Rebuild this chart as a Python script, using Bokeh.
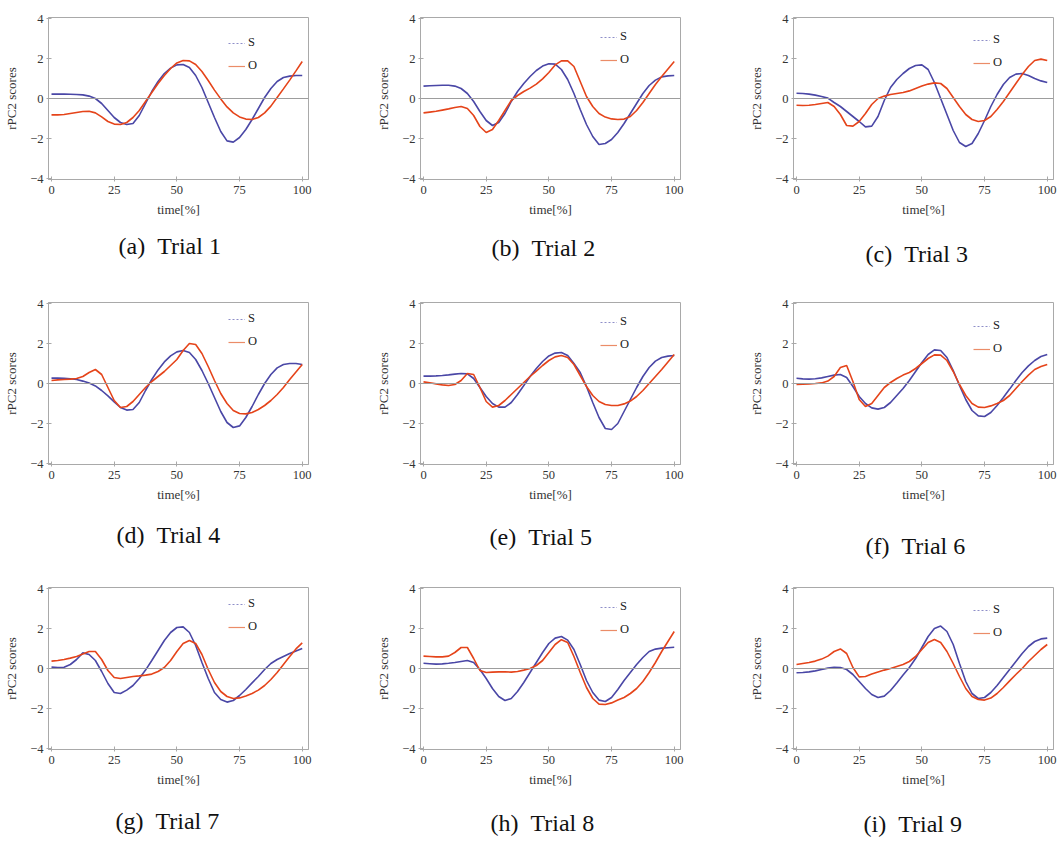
from bokeh.plotting import figure
from bokeh.layouts import column, row
from bokeh.models import (Range1d, FixedTicker, Span, Legend, LegendItem, Title,
                          LinearAxis)
from bokeh.embed import file_html
from bokeh.resources import INLINE

# ---------------- data ----------------
time_pct = [0, 2.5, 5, 7.5, 10, 12.5, 15, 17.5, 20, 22.5, 25, 27.5, 30, 32.5, 35, 37.5,
            40, 42.5, 45, 47.5, 50, 52.5, 55, 57.5, 60, 62.5, 65, 67.5, 70, 72.5, 75,
            77.5, 80, 82.5, 85, 87.5, 90, 92.5, 95, 97.5, 100]

s_trial1 = [0.22, 0.22, 0.22, 0.21, 0.2, 0.18, 0.12, 0.0, -0.25, -0.6, -0.95, -1.2, -1.3, -1.25,
            -0.85, -0.25, 0.35, 0.85, 1.25, 1.52, 1.68, 1.7, 1.55, 1.15, 0.55, -0.2, -0.95, -1.65,
            -2.12, -2.18, -1.95, -1.55, -1.05, -0.5, 0.05, 0.5, 0.85, 1.05, 1.12, 1.15, 1.15]
o_trial1 = [-0.82, -0.82, -0.8, -0.75, -0.7, -0.65, -0.64, -0.72, -0.92, -1.15, -1.28, -1.3, -1.2,
            -0.95, -0.6, -0.15, 0.3, 0.75, 1.15, 1.5, 1.78, 1.9, 1.88, 1.7, 1.35, 0.9, 0.42, -0.02,
            -0.42, -0.72, -0.92, -1.03, -1.05, -0.95, -0.72, -0.38, 0.05, 0.48, 0.92, 1.38, 1.85]

s_trial2 = [0.62, 0.64, 0.65, 0.66, 0.66, 0.62, 0.5, 0.25, -0.15, -0.65, -1.1, -1.35, -1.2, -0.75,
            -0.15, 0.35, 0.75, 1.1, 1.4, 1.62, 1.74, 1.72, 1.45, 0.95, 0.25, -0.55, -1.3, -1.9,
            -2.3, -2.25, -2.05, -1.7, -1.25, -0.75, -0.25, 0.25, 0.65, 0.92, 1.08, 1.13, 1.15]
o_trial2 = [-0.72, -0.68, -0.64, -0.58, -0.52, -0.45, -0.4, -0.5, -0.85, -1.4, -1.7, -1.55, -1.1,
            -0.6, -0.1, 0.15, 0.35, 0.52, 0.72, 0.98, 1.3, 1.68, 1.88, 1.88, 1.6, 0.85, 0.1, -0.4,
            -0.75, -0.93, -1.02, -1.05, -1.03, -0.9, -0.6, -0.2, 0.25, 0.7, 1.1, 1.48, 1.85]

s_trial3 = [0.26, 0.25, 0.22, 0.17, 0.1, 0.02, -0.2, -0.4, -0.65, -0.9, -1.15, -1.42, -1.38, -0.9,
            -0.1, 0.55, 0.95, 1.25, 1.5, 1.65, 1.68, 1.45, 0.8, 0.0, -0.8, -1.6, -2.2, -2.4, -2.25,
            -1.75, -1.1, -0.4, 0.2, 0.7, 1.05, 1.22, 1.25, 1.15, 1.0, 0.88, 0.8]
o_trial3 = [-0.34, -0.35, -0.34, -0.3, -0.25, -0.2, -0.4, -0.8, -1.35, -1.38, -1.15, -0.75, -0.3,
            0.0, 0.12, 0.2, 0.25, 0.3, 0.38, 0.5, 0.62, 0.72, 0.78, 0.75, 0.5, 0.05, -0.4, -0.8,
            -1.05, -1.15, -1.1, -0.9, -0.55, -0.15, 0.3, 0.75, 1.2, 1.6, 1.9, 1.97, 1.9]

s_trial4 = [0.27, 0.27, 0.26, 0.24, 0.2, 0.12, 0.02, -0.12, -0.35, -0.62, -0.92, -1.2, -1.33, -1.3,
            -0.95, -0.35, 0.2, 0.68, 1.08, 1.38, 1.58, 1.65, 1.55, 1.2, 0.65, 0.0, -0.7, -1.4, -1.95,
            -2.2, -2.12, -1.7, -1.15, -0.55, 0.0, 0.45, 0.78, 0.95, 1.0, 1.0, 0.95]
o_trial4 = [0.15, 0.18, 0.2, 0.22, 0.25, 0.35, 0.55, 0.7, 0.45, -0.2, -0.85, -1.2, -1.15, -0.9,
            -0.55, -0.2, 0.1, 0.35, 0.6, 0.9, 1.2, 1.65, 2.0, 1.95, 1.5, 0.85, 0.15, -0.5, -1.0,
            -1.35, -1.5, -1.52, -1.45, -1.3, -1.1, -0.85, -0.55, -0.2, 0.2, 0.58, 0.95]

s_trial5 = [0.37, 0.37, 0.38, 0.4, 0.43, 0.47, 0.5, 0.48, 0.25, -0.2, -0.65, -1.0, -1.18, -1.18,
            -0.95, -0.55, -0.1, 0.35, 0.75, 1.1, 1.38, 1.52, 1.55, 1.4, 1.0, 0.55, -0.15, -0.95,
            -1.7, -2.25, -2.3, -2.0, -1.4, -0.8, -0.2, 0.35, 0.8, 1.12, 1.3, 1.37, 1.4]
o_trial5 = [0.08, 0.04, -0.02, -0.07, -0.1, -0.05, 0.15, 0.5, 0.45, -0.2, -0.9, -1.18, -1.1, -0.85,
            -0.55, -0.25, 0.05, 0.35, 0.62, 0.9, 1.15, 1.33, 1.4, 1.3, 0.95, 0.4, -0.15, -0.6, -0.9,
            -1.05, -1.1, -1.1, -1.02, -0.88, -0.65, -0.35, 0.0, 0.35, 0.7, 1.08, 1.45]

s_trial6 = [0.26, 0.23, 0.22, 0.24, 0.28, 0.35, 0.42, 0.45, 0.3, -0.15, -0.65, -1.0, -1.22, -1.28,
            -1.2, -0.95, -0.6, -0.25, 0.15, 0.6, 1.05, 1.45, 1.68, 1.65, 1.3, 0.65, -0.1, -0.8,
            -1.35, -1.62, -1.65, -1.45, -1.1, -0.7, -0.28, 0.15, 0.55, 0.88, 1.15, 1.35, 1.45]
o_trial6 = [-0.05, -0.04, -0.02, 0.0, 0.03, 0.12, 0.35, 0.8, 0.9, 0.1, -0.8, -1.15, -1.0, -0.6,
            -0.2, 0.05, 0.25, 0.42, 0.55, 0.75, 1.0, 1.25, 1.43, 1.42, 1.15, 0.6, -0.05, -0.6, -1.0,
            -1.18, -1.2, -1.12, -1.0, -0.85, -0.6, -0.25, 0.1, 0.42, 0.7, 0.85, 0.95]

s_trial7 = [0.07, 0.05, 0.06, 0.2, 0.45, 0.78, 0.7, 0.4, -0.15, -0.75, -1.2, -1.25, -1.08, -0.85,
            -0.5, -0.08, 0.4, 0.9, 1.4, 1.8, 2.05, 2.08, 1.8, 1.15, 0.3, -0.5, -1.2, -1.55, -1.68,
            -1.6, -1.35, -1.05, -0.72, -0.4, -0.05, 0.25, 0.45, 0.6, 0.75, 0.88, 1.0]
o_trial7 = [0.37, 0.4, 0.45, 0.52, 0.6, 0.72, 0.85, 0.85, 0.45, -0.1, -0.45, -0.5, -0.45, -0.4,
            -0.37, -0.33, -0.28, -0.15, 0.05, 0.4, 0.85, 1.25, 1.4, 1.25, 0.7, -0.05, -0.7, -1.15,
            -1.4, -1.5, -1.47, -1.38, -1.25, -1.08, -0.85, -0.55, -0.2, 0.2, 0.6, 0.98, 1.28]

s_trial8 = [0.26, 0.24, 0.22, 0.23, 0.26, 0.3, 0.35, 0.4, 0.3, -0.05, -0.5, -1.0, -1.4, -1.6,
            -1.5, -1.15, -0.7, -0.2, 0.3, 0.8, 1.25, 1.52, 1.6, 1.42, 0.95, 0.2, -0.6, -1.2, -1.58,
            -1.65, -1.45, -1.05, -0.6, -0.2, 0.2, 0.55, 0.85, 0.97, 1.02, 1.04, 1.06]
o_trial8 = [0.62, 0.6, 0.58, 0.58, 0.62, 0.8, 1.05, 1.05, 0.5, -0.1, -0.2, -0.18, -0.17, -0.17,
            -0.18, -0.15, -0.08, 0.0, 0.15, 0.4, 0.8, 1.2, 1.44, 1.3, 0.6, -0.2, -0.95, -1.5,
            -1.78, -1.8, -1.72, -1.58, -1.45, -1.25, -1.0, -0.65, -0.2, 0.3, 0.85, 1.35, 1.85]

s_trial9 = [-0.21, -0.2, -0.17, -0.12, -0.05, 0.02, 0.06, 0.05, -0.05, -0.3, -0.65, -1.0, -1.3,
            -1.45, -1.38, -1.1, -0.72, -0.32, 0.05, 0.5, 1.05, 1.6, 2.0, 2.12, 1.85, 1.2, 0.25,
            -0.65, -1.25, -1.5, -1.45, -1.2, -0.85, -0.45, -0.05, 0.35, 0.75, 1.1, 1.35, 1.48, 1.52]
o_trial9 = [0.2, 0.25, 0.3, 0.37, 0.47, 0.62, 0.85, 0.98, 0.75, 0.05, -0.42, -0.4, -0.28, -0.18,
            -0.08, 0.0, 0.1, 0.2, 0.35, 0.6, 0.95, 1.3, 1.45, 1.3, 0.85, 0.25, -0.4, -1.0, -1.4,
            -1.55, -1.58, -1.48, -1.25, -0.95, -0.62, -0.3, 0.0, 0.35, 0.65, 0.95, 1.2]

s_series = [s_trial1, s_trial2, s_trial3, s_trial4, s_trial5, s_trial6, s_trial7, s_trial8, s_trial9]
o_series = [o_trial1, o_trial2, o_trial3, o_trial4, o_trial5, o_trial6, o_trial7, o_trial8, o_trial9]

captions = ["(a)\u2002Trial 1", "(b)\u2002Trial 2", "(c)\u2002Trial 3",
            "(d)\u2002Trial 4", "(e)\u2002Trial 5", "(f)\u2002Trial 6",
            "(g)\u2002Trial 7", "(h)\u2002Trial 8", "(i)\u2002Trial 9"]
series_names = ["S", "O"]
x_ticks = [0, 25, 50, 75, 100]
y_ticks = [-4, -2, 0, 2, 4]
y_tick_labels = {-4: "\u22124", -2: "\u22122", 0: "0", 2: "2", 4: "4"}
x_label = "time[%]"
y_label = "rPC2 scores"
zero_level = 0

# ---------------- layout / style ----------------
SERIF = "Liberation Serif"
S_COLOR = "#4a47a6"
O_COLOR = "#e5441a"
FRAME_GREY = "#a9a9a9"

col_width = [365, 345, 354]
col_left = [48, 55, 83]
col_right = [57, 30, 11]
row_height = [285, 285, 271]
ROW_TOP = 17
FRAME_H = 162
caption_dx = [70, 71, 72, 68, 69, 72, 67, 70, 70]
caption_gap = [11, 13, 19, 15, 17, 26, 16, 18, 19]   # empty space between axis and caption
legend_first = [26, 20, 23, 17, 20, 24, 17, 20, 23]


def make_panel(i):
    r, c = divmod(i, 3)
    bottom = row_height[r] - ROW_TOP - FRAME_H
    p = figure(width=col_width[c], height=row_height[r],
               x_range=Range1d(-1.2, 102.5), y_range=Range1d(-4.05, 4.05),
               output_backend="svg", toolbar_location=None,
               min_border_left=col_left[c], min_border_right=col_right[c],
               min_border_top=ROW_TOP, min_border_bottom=bottom)
    p.grid.visible = False
    p.outline_line_color = FRAME_GREY
    p.outline_line_width = 1
    p.background_fill_color = "white"
    p.border_fill_color = "white"

    p.xaxis.ticker = FixedTicker(ticks=x_ticks, minor_ticks=[])
    p.yaxis.ticker = FixedTicker(ticks=y_ticks, minor_ticks=[])
    p.yaxis.major_label_overrides = y_tick_labels
    for ax in (p.xaxis[0], p.yaxis[0]):
        ax.axis_line_color = FRAME_GREY
        ax.major_tick_line_color = FRAME_GREY
        ax.major_tick_in = 3
        ax.major_tick_out = 2
        ax.minor_tick_line_color = None
        ax.major_label_text_font = SERIF
        ax.major_label_text_font_size = "12.5px"
        ax.major_label_text_color = "#333333"
        ax.axis_label_text_font = SERIF
        ax.axis_label_text_font_size = "13px"
        ax.axis_label_text_font_style = "normal"
        ax.axis_label_text_color = "#333333"
    p.xaxis.axis_label = x_label
    p.yaxis.axis_label = y_label
    p.xaxis.major_label_standoff = 4
    p.xaxis.axis_label_standoff = 5
    p.yaxis.major_label_standoff = 3
    p.yaxis.axis_label_standoff = 8

    p.add_layout(Span(location=zero_level, dimension="width",
                      line_color="#9d9d9d", line_width=1))

    p.line(time_pct, s_series[i], line_color=S_COLOR, line_width=1.6)
    p.line(time_pct, o_series[i], line_color=O_COLOR, line_width=1.6)

    # legend keys (pale samples, as in the reference); their single point is NaN
    s_key = p.line([float("nan")], [float("nan")], line_color="#8e8ec8",
                   line_width=1, line_dash="2 2")
    o_key = p.line([float("nan")], [float("nan")], line_color="#eb8c68", line_width=1.2)
    t1 = legend_first[i]
    legend = Legend(items=[LegendItem(label=series_names[0], renderers=[s_key]),
                           LegendItem(label=series_names[1], renderers=[o_key])],
                    location=(180, 132 - t1), orientation="vertical",
                    padding=0, margin=0, spacing=8,
                    glyph_width=17, glyph_height=12, label_height=12,
                    label_standoff=3,
                    label_text_font=SERIF, label_text_font_size="12.5px",
                    label_text_color="#222222",
                    border_line_color=None, background_fill_alpha=0)
    p.add_layout(legend)

    # invisible spacer between the x axis and the caption: one white tick, no label
    spacer = LinearAxis(ticker=FixedTicker(ticks=[x_ticks[2]], minor_ticks=[]),
                        axis_line_color=None,
                        major_tick_line_color="white", minor_tick_line_color=None,
                        major_tick_in=0, major_tick_out=caption_gap[i],
                        minor_tick_in=0, minor_tick_out=0,
                        major_label_overrides={x_ticks[2]: ""},
                        major_label_text_font_size="0px",
                        major_label_standoff=0)
    p.add_layout(spacer, "below")

    p.add_layout(Title(text=captions[i], align="left", offset=caption_dx[i],
                       text_font=SERIF, text_font_size="24px",
                       text_font_style="normal", text_color="#111111",
                       standoff=0), "below")
    return p


panels = [make_panel(i) for i in range(9)]
layout = column(row(*panels[0:3], spacing=0),
                row(*panels[3:6], spacing=0),
                row(*panels[6:9], spacing=0), spacing=0)

open("out.html", "w").write(file_html(layout, INLINE))
